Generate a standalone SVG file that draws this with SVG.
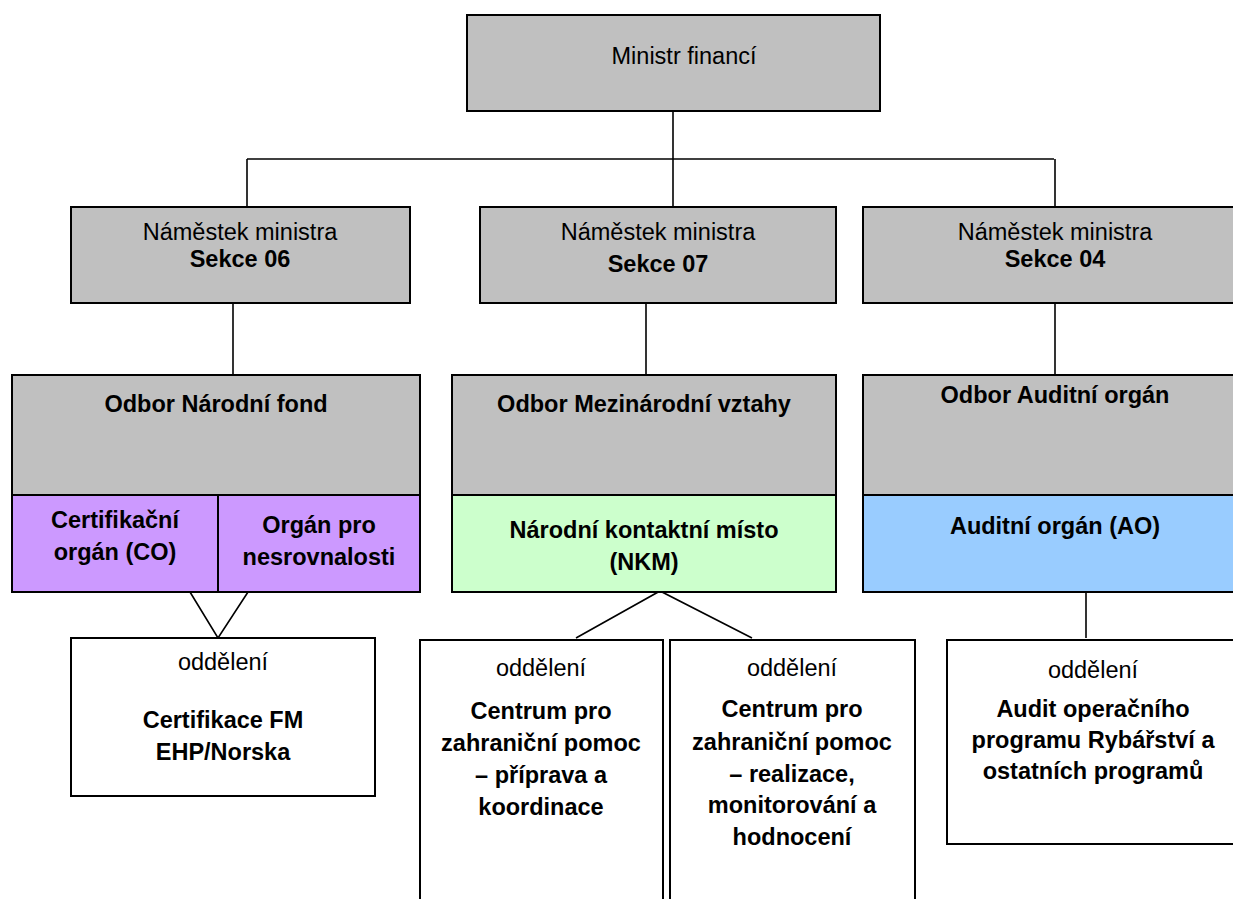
<svg xmlns="http://www.w3.org/2000/svg" width="1233" height="899" viewBox="0 0 1233 899">
<style>
.box{stroke:#000;stroke-width:2}
.grey{fill:#c0c0c0}
.purple{fill:#cc99ff}
.green{fill:#ccffcc}
.blue{fill:#99ccff}
.white{fill:#fff}
.t{font-family:"Liberation Sans",Arial,sans-serif;font-size:23.5px;fill:#000;text-anchor:middle}
.b{font-weight:bold}
.conn{stroke:#000;stroke-width:1.6;fill:none}
</style>
<rect width="1233" height="899" fill="#fff"/>
<g id="connectors">
<line class="conn" x1="673" y1="111" x2="673" y2="207"/>
<line class="conn" x1="247" y1="159" x2="1054" y2="159"/>
<line class="conn" x1="247" y1="159" x2="247" y2="207"/>
<line class="conn" x1="1055" y1="159" x2="1055" y2="207"/>
<line class="conn" x1="233" y1="303" x2="233" y2="375"/>
<line class="conn" x1="646" y1="303" x2="646" y2="375"/>
<line class="conn" x1="1055" y1="303" x2="1055" y2="375"/>
<polyline class="conn" points="190,592 218,638 248,592"/>
<polyline class="conn" points="576,638 660,591 752,638"/>
<line class="conn" x1="1086" y1="588" x2="1086" y2="638"/>
</g>
<g id="minister">
<rect class="box grey" x="467" y="15" width="413" height="96"/>
<text class="t" x="684" y="64">Ministr financí</text>
</g>
<g id="deputy06">
<rect class="box grey" x="71" y="207" width="339" height="96"/>
<text class="t" x="240" y="240">Náměstek ministra</text>
<text class="t b" x="240" y="267">Sekce 06</text>
</g>
<g id="deputy07">
<rect class="box grey" x="480" y="207" width="356" height="96"/>
<text class="t" x="658" y="240">Náměstek ministra</text>
<text class="t b" x="658" y="272">Sekce 07</text>
</g>
<g id="deputy04">
<rect class="box grey" x="863" y="207" width="384" height="96"/>
<text class="t" x="1055" y="240">Náměstek ministra</text>
<text class="t b" x="1055" y="267">Sekce 04</text>
</g>
<g id="odbor-nf">
<rect class="box grey" x="12" y="375" width="408" height="120"/>
<text class="t b" x="216" y="412">Odbor Národní fond</text>
</g>
<g id="co">
<rect class="box purple" x="12" y="495" width="206" height="97"/>
<text class="t b" x="115" y="528">Certifikační</text>
<text class="t b" x="115" y="560">orgán (CO)</text>
</g>
<g id="nesrovnalosti">
<rect class="box purple" x="218" y="495" width="202" height="97"/>
<text class="t b" x="319" y="533">Orgán pro</text>
<text class="t b" x="319" y="565">nesrovnalosti</text>
</g>
<g id="odbor-mv">
<rect class="box grey" x="452" y="375" width="384" height="120"/>
<text class="t b" x="644" y="412">Odbor Mezinárodní vztahy</text>
</g>
<g id="nkm">
<rect class="box green" x="452" y="495" width="384" height="97"/>
<text class="t b" x="644" y="538">Národní kontaktní místo</text>
<text class="t b" x="644" y="570">(NKM)</text>
</g>
<g id="odbor-ao">
<rect class="box grey" x="863" y="375" width="384" height="120"/>
<text class="t b" x="1055" y="403">Odbor Auditní orgán</text>
</g>
<g id="ao">
<rect class="box blue" x="863" y="495" width="384" height="97"/>
<text class="t b" x="1055" y="534">Auditní orgán (AO)</text>
</g>
<g id="odd-cert">
<rect class="box white" x="71" y="638" width="304" height="158"/>
<text class="t" x="223" y="670">oddělení</text>
<text class="t b" x="223" y="728">Certifikace FM</text>
<text class="t b" x="223" y="760">EHP/Norska</text>
</g>
<g id="odd-czp1">
<rect class="box white" x="420" y="640" width="243" height="280"/>
<text class="t" x="541" y="676">oddělení</text>
<text class="t b" x="541" y="719">Centrum pro</text>
<text class="t b" x="541" y="751">zahraniční pomoc</text>
<text class="t b" x="541" y="783">– příprava a</text>
<text class="t b" x="541" y="815">koordinace</text>
</g>
<g id="odd-czp2">
<rect class="box white" x="670" y="640" width="245" height="280"/>
<text class="t" x="792" y="676">oddělení</text>
<text class="t b" x="792" y="717">Centrum pro</text>
<text class="t b" x="792" y="750">zahraniční pomoc</text>
<text class="t b" x="792" y="782">– realizace,</text>
<text class="t b" x="792" y="813">monitorování a</text>
<text class="t b" x="792" y="845">hodnocení</text>
</g>
<g id="odd-audit">
<rect class="box white" x="947" y="640" width="292" height="204"/>
<text class="t" x="1093" y="678">oddělení</text>
<text class="t b" x="1093" y="717">Audit operačního</text>
<text class="t b" x="1093" y="748">programu Rybářství a</text>
<text class="t b" x="1093" y="779">ostatních programů</text>
</g>
</svg>
